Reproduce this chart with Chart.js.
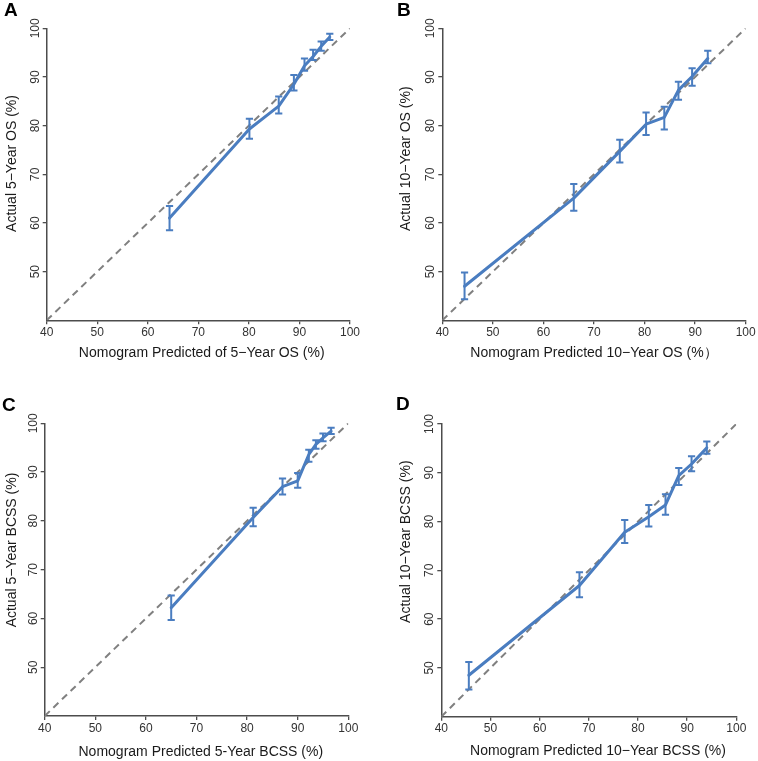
<!DOCTYPE html>
<html><head><meta charset="utf-8">
<script src="https://cdn.jsdelivr.net/npm/chart.js@4.4.1/dist/chart.umd.min.js"></script>
<style>
html,body{margin:0;padding:0;background:#fff;}
#wrap{position:relative;width:758px;height:761px;overflow:hidden;}
.p{position:absolute;}
</style></head><body>
<div id="wrap">
<div class="p" style="left:0;top:0;width:379px;height:380px"><canvas id="cA"></canvas></div>
<div class="p" style="left:379px;top:0;width:379px;height:380px"><canvas id="cB"></canvas></div>
<div class="p" style="left:0;top:380px;width:379px;height:381px"><canvas id="cC"></canvas></div>
<div class="p" style="left:379px;top:380px;width:379px;height:381px"><canvas id="cD"></canvas></div>
</div>
<script>
// ---- data ----
const xTicks = [40, 50, 60, 70, 80, 90, 100];
const yTicks = [50, 60, 70, 80, 90, 100];
const diagonal = [40, 100];

const predA = [64.3, 80.1, 85.9, 88.9, 91.0, 92.7, 94.3, 96.0];
const obsA  = [61.0, 79.3, 84.0, 88.5, 92.3, 94.2, 96.3, 98.2];
const loA   = [58.5, 77.3, 82.5, 87.2, 91.3, 93.5, 95.4, 97.6];
const hiA   = [63.5, 81.4, 86.0, 90.4, 93.8, 95.6, 97.3, 98.9];

const predB = [44.4, 66.0, 75.1, 80.3, 83.9, 86.7, 89.4, 92.5];
const obsB  = [47.0, 65.1, 74.7, 80.3, 81.7, 87.3, 90.1, 93.8];
const loB   = [44.3, 62.5, 72.4, 78.1, 79.2, 85.3, 88.2, 92.8];
const hiB   = [49.8, 68.0, 77.1, 82.7, 83.9, 89.0, 91.8, 95.4];

const predC = [65.0, 81.2, 87.0, 90.0, 92.2, 93.6, 95.0, 96.6];
const obsC  = [62.2, 80.7, 87.0, 88.2, 93.6, 95.7, 97.0, 98.4];
const loC   = [59.7, 78.9, 85.4, 86.8, 92.1, 94.8, 96.3, 97.8];
const hiC   = [64.7, 82.7, 88.7, 89.8, 94.6, 96.5, 97.9, 99.1];

const predD = [45.6, 68.1, 77.3, 82.2, 85.6, 88.3, 90.9, 94.0];
const obsD  = [48.5, 66.9, 77.8, 81.0, 83.4, 89.4, 91.8, 95.1];
const loD   = [45.6, 64.5, 75.6, 79.0, 81.4, 87.5, 90.3, 93.9];
const hiD   = [51.2, 69.6, 80.3, 83.4, 85.6, 91.0, 93.4, 96.4];

const letters = ['A', 'B', 'C', 'D'];
const xTitles = ['Nomogram Predicted of 5\u2212Year OS (%)', 'Nomogram Predicted 10\u2212Year OS (%\uFF09',
                 'Nomogram Predicted 5-Year BCSS (%)', 'Nomogram Predicted 10\u2212Year BCSS (%)'];
const yTitles = ['Actual 5\u2212Year OS (%)', 'Actual 10\u2212Year OS (%)',
                 'Actual 5\u2212Year BCSS (%)', 'Actual 10\u2212Year BCSS (%)'];

// ---- styling / layout ----
const BLUE = '#4a7dc0';
const GRAY = '#808080';
const AXIS = '#4d4d4d';
const FONT = '"Liberation Sans", Arial, sans-serif';

const layouts = [
  {top: 28.3, right: 29,   yw: 46.7, xh: 59.7, letter: [4, 16],   xt: [201.7, 353], yt: [12, 163.5]},
  {top: 28.3, right: 12.3, yw: 63.3, xh: 59.7, letter: [18, 16],  xt: [215, 353.3], yt: [26.7, 158.7]},
  {top: 43.3, right: 30.7, yw: 44.7, xh: 45,   letter: [2, 31],   xt: [200.8, 371.7], yt: [11.7, 170]},
  {top: 44,   right: 21.7, yw: 62.3, xh: 44.3, letter: [17, 30],  xt: [219, 370.7], yt: [26.7, 161.7]}
];

const textPlugin = {
  id: 'panelText',
  afterDraw(chart, args, opts) {
    const ctx = chart.ctx;
    const g = opts.g;
    const ys = chart.scales.y;
    ctx.save();
    // panel letter
    ctx.fillStyle = '#000';
    ctx.font = 'bold 19px ' + FONT;
    ctx.textAlign = 'left';
    ctx.textBaseline = 'alphabetic';
    ctx.fillText(opts.letter, g.letter[0], g.letter[1]);
    // y tick labels (rotated, parallel to axis)
    ctx.fillStyle = '#333';
    ctx.font = '12px ' + FONT;
    ctx.textAlign = 'center';
    ctx.textBaseline = 'middle';
    ys.ticks.forEach(t => {
      const py = ys.getPixelForValue(t.value);
      ctx.save();
      ctx.translate(chart.chartArea.left - 11.5, py);
      ctx.rotate(-Math.PI / 2);
      ctx.fillText(String(t.value), 0, 0);
      ctx.restore();
    });
    // axis titles
    ctx.fillStyle = '#1a1a1a';
    ctx.font = '14px ' + FONT;
    ctx.fillText(opts.xTitle, g.xt[0], g.xt[1]);
    ctx.save();
    ctx.translate(g.yt[0], g.yt[1]);
    ctx.rotate(-Math.PI / 2);
    ctx.fillText(opts.yTitle, 0, 0);
    ctx.restore();
    ctx.restore();
  }
};

function makeChart(id, idx, pred, obs, lo, hi) {
  const g = layouts[idx];
  const datasets = [];
  datasets.push({
    data: pred.map((p, i) => ({x: p, y: obs[i]})),
    showLine: true, borderColor: BLUE, borderWidth: 3, pointRadius: 0,
    borderJoinStyle: 'round', borderCapStyle: 'round'
  });
  pred.forEach((p, i) => {
    datasets.push({
      data: [{x: p, y: lo[i]}, {x: p, y: hi[i]}],
      showLine: true, borderColor: BLUE, borderWidth: 2,
      pointStyle: 'line', pointRadius: 3.6, pointBorderWidth: 2,
      pointBorderColor: BLUE, pointBackgroundColor: BLUE, pointHoverRadius: 3.6
    });
  });
  datasets.push({
    data: diagonal.map(v => ({x: v, y: v})),
    showLine: true, borderColor: GRAY, borderWidth: 2, borderDash: [7, 5],
    pointRadius: 0
  });
  const axisCommon = {
    type: 'linear', min: 40, max: 100,
    grid: {drawOnChartArea: false, drawTicks: true, tickLength: 4, color: AXIS, lineWidth: 1.3},
    border: {display: true, color: AXIS, width: 1.5}
  };
  return new Chart(document.getElementById(id), {
    type: 'scatter',
    data: {datasets},
    options: {
      responsive: true, maintainAspectRatio: false, animation: false,
      layout: {padding: {left: 0, top: g.top, right: g.right, bottom: 0}},
      plugins: {
        legend: {display: false}, tooltip: {enabled: false},
        panelText: {g, letter: letters[idx], xTitle: xTitles[idx], yTitle: yTitles[idx]}
      },
      scales: {
        x: Object.assign({}, axisCommon, {
          afterBuildTicks: s => { s.ticks = xTicks.map(v => ({value: v})); },
          afterFit: s => { s.height = g.xh; },
          ticks: {font: {family: FONT, size: 12}, color: '#333', padding: 1, autoSkip: false, maxRotation: 0}
        }),
        y: Object.assign({}, axisCommon, {
          afterBuildTicks: s => { s.ticks = yTicks.map(v => ({value: v})); },
          afterFit: s => { s.width = g.yw; },
          ticks: {display: false}
        })
      }
    },
    plugins: [textPlugin]
  });
}

makeChart('cA', 0, predA, obsA, loA, hiA);
makeChart('cB', 1, predB, obsB, loB, hiB);
makeChart('cC', 2, predC, obsC, loC, hiC);
makeChart('cD', 3, predD, obsD, loD, hiD);
</script>
</body></html>
